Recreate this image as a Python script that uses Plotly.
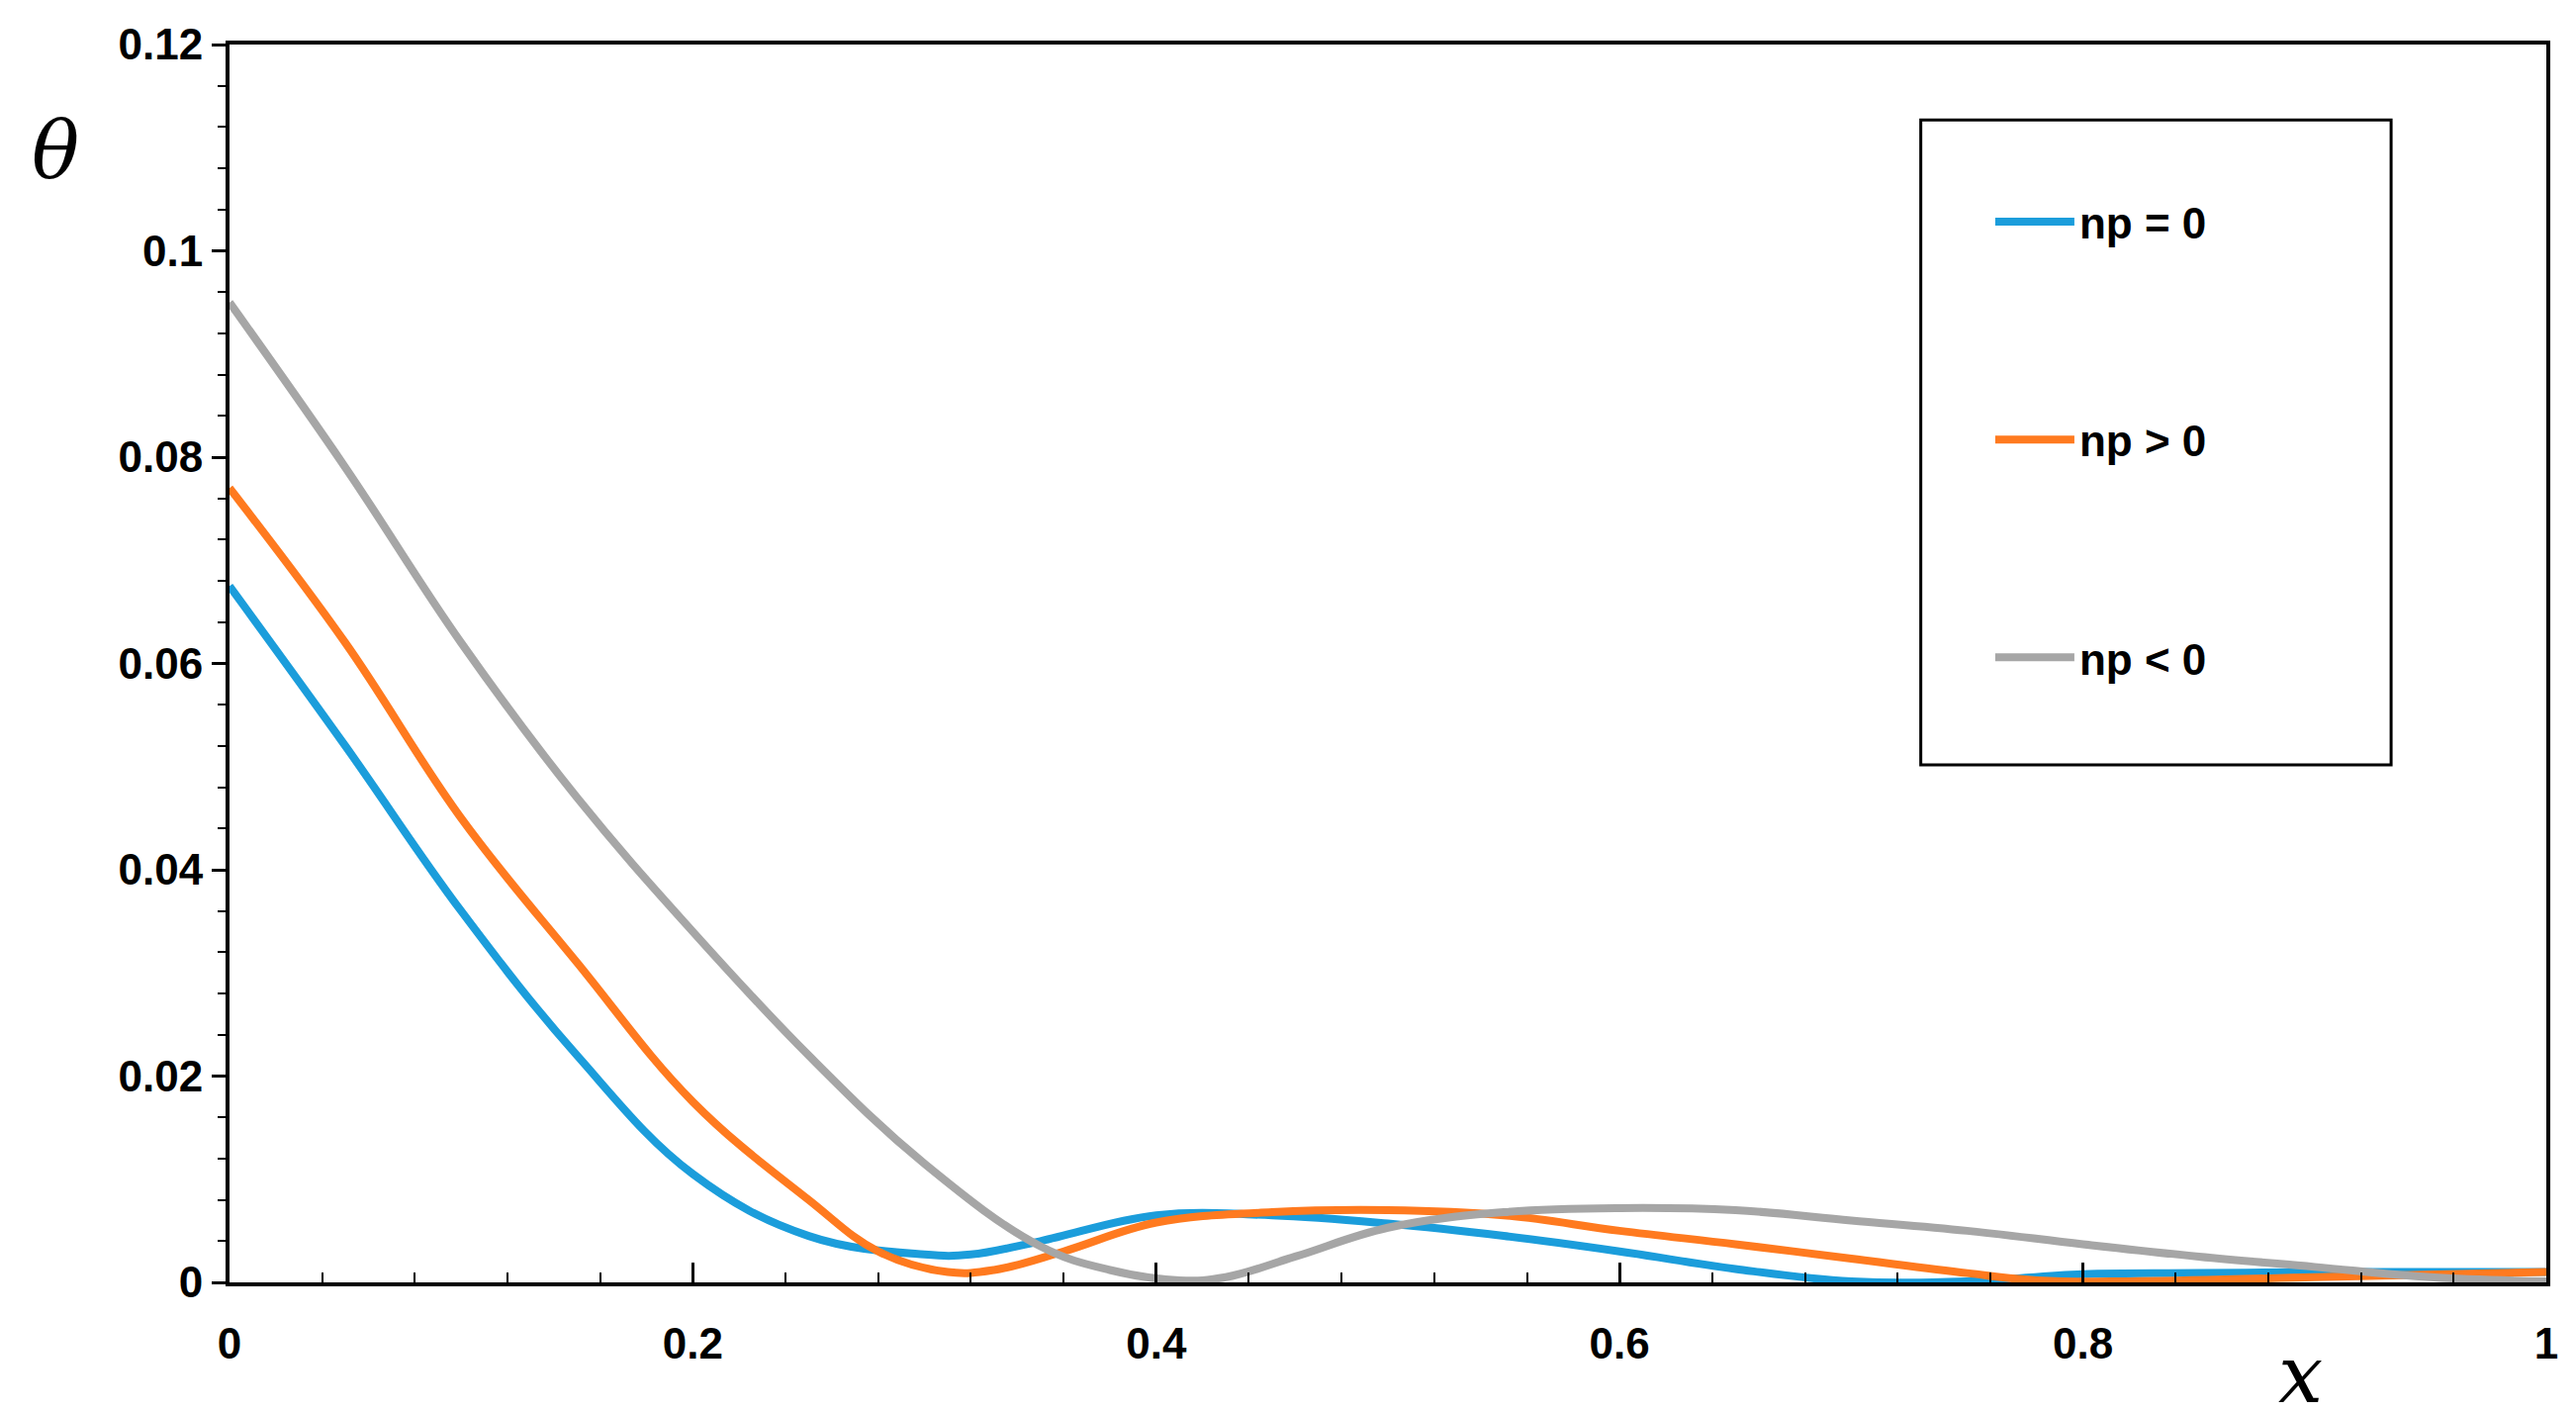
import plotly.graph_objects as go

x_blue = [0, 0.05, 0.1, 0.15, 0.2, 0.25, 0.3, 0.32, 0.35, 0.4, 0.45, 0.5, 0.55, 0.6, 0.65, 0.7, 0.75, 0.8, 0.85, 0.9, 1.0]
y_blue = [0.0675, 0.052, 0.036, 0.022, 0.0105, 0.0045, 0.0027, 0.0027, 0.004, 0.0065, 0.0065, 0.0057, 0.0045, 0.003, 0.0013, 0.0001, 0.0001, 0.0008, 0.0009, 0.001, 0.001]
x_orange = [0, 0.05, 0.1, 0.15, 0.2, 0.25, 0.28, 0.31, 0.33, 0.36, 0.4, 0.45, 0.5, 0.55, 0.6, 0.65, 0.7, 0.75, 0.78, 0.82, 0.9, 1.0]
y_orange = [0.077, 0.062, 0.045, 0.031, 0.0175, 0.008, 0.003, 0.001, 0.0012, 0.003, 0.0058, 0.0068, 0.007, 0.0065, 0.005, 0.0037, 0.0023, 0.0009, 0.0002, 0.0001, 0.0005, 0.001]
x_gray = [0, 0.05, 0.1, 0.15, 0.2, 0.25, 0.3, 0.35, 0.38, 0.41, 0.43, 0.46, 0.5, 0.55, 0.6, 0.65, 0.7, 0.75, 0.8, 0.85, 0.9, 0.95, 1.0]
y_gray = [0.095, 0.079, 0.062, 0.047, 0.034, 0.022, 0.0115, 0.0035, 0.0012, 0.0002, 0.0005, 0.0025, 0.0053, 0.0068, 0.0072, 0.007, 0.006, 0.005, 0.0037, 0.0025, 0.0015, 0.0005, 0.0001]
names = ["np = 0", "np > 0", "np < 0"]
colors = ["#1B9DDB", "#FF7A1F", "#A6A6A6"]

fig = go.Figure()
for i, (xs, ys) in enumerate([(x_blue, y_blue), (x_orange, y_orange), (x_gray, y_gray)]):
    fig.add_trace(go.Scatter(x=xs, y=ys, mode="lines", name=names[i], legendgroup=str(i),
                             line=dict(color=colors[i], width=8, shape="spline", smoothing=1.1)))

tickfont = dict(family="Liberation Sans, Arial", size=44, color="black", weight="bold")
fig.update_layout(
    width=2604, height=1427, plot_bgcolor="white", paper_bgcolor="white",
    margin=dict(l=224, r=38, t=37, b=139),
    xaxis=dict(range=[0, 1], dtick=0.2, showgrid=False, zeroline=False, showline=True, linecolor="black",
               linewidth=4, mirror=True, ticks="inside", ticklen=20, tickwidth=3, tickcolor="black",
               minor=dict(dtick=0.04, ticks="inside", ticklen=10, tickwidth=2, tickcolor="black"),
               tickfont=tickfont, tickformat="~g", ticklabelstandoff=20),
    yaxis=dict(range=[0, 0.12], dtick=0.02, showgrid=False, zeroline=False, showline=True, linecolor="black",
               linewidth=4, mirror=True, ticks="outside", ticklen=14, tickwidth=3, tickcolor="black",
               minor=dict(dtick=0.004, ticks="outside", ticklen=8, tickwidth=2, tickcolor="black"),
               tickfont=tickfont, tickformat="~g"),
    legend=dict(x=0.76, y=0.885, xanchor="left", yanchor="top", bgcolor="rgba(0,0,0,0)",
                font=dict(family="Liberation Sans, Arial", size=44, color="black", weight="bold"),
                traceorder="grouped", tracegroupgap=160, itemwidth=80),
    showlegend=True,
)
fig.add_shape(type="rect", xref="paper", yref="paper", x0=0.730, x1=0.933, y0=0.418, y1=0.939,
              line=dict(color="black", width=3))
fig.add_annotation(xref="paper", yref="paper", x=-0.075, y=0.915, text="<i>θ</i>", showarrow=False,
                   font=dict(family="DejaVu Serif", size=80, color="black"), xanchor="center", yanchor="middle")
fig.add_annotation(xref="paper", yref="paper", x=0.894, y=-0.075, text="<i>x</i>", showarrow=False,
                   font=dict(family="DejaVu Serif", size=80, color="black"), xanchor="center", yanchor="middle")
fig.write_html("out.html")
